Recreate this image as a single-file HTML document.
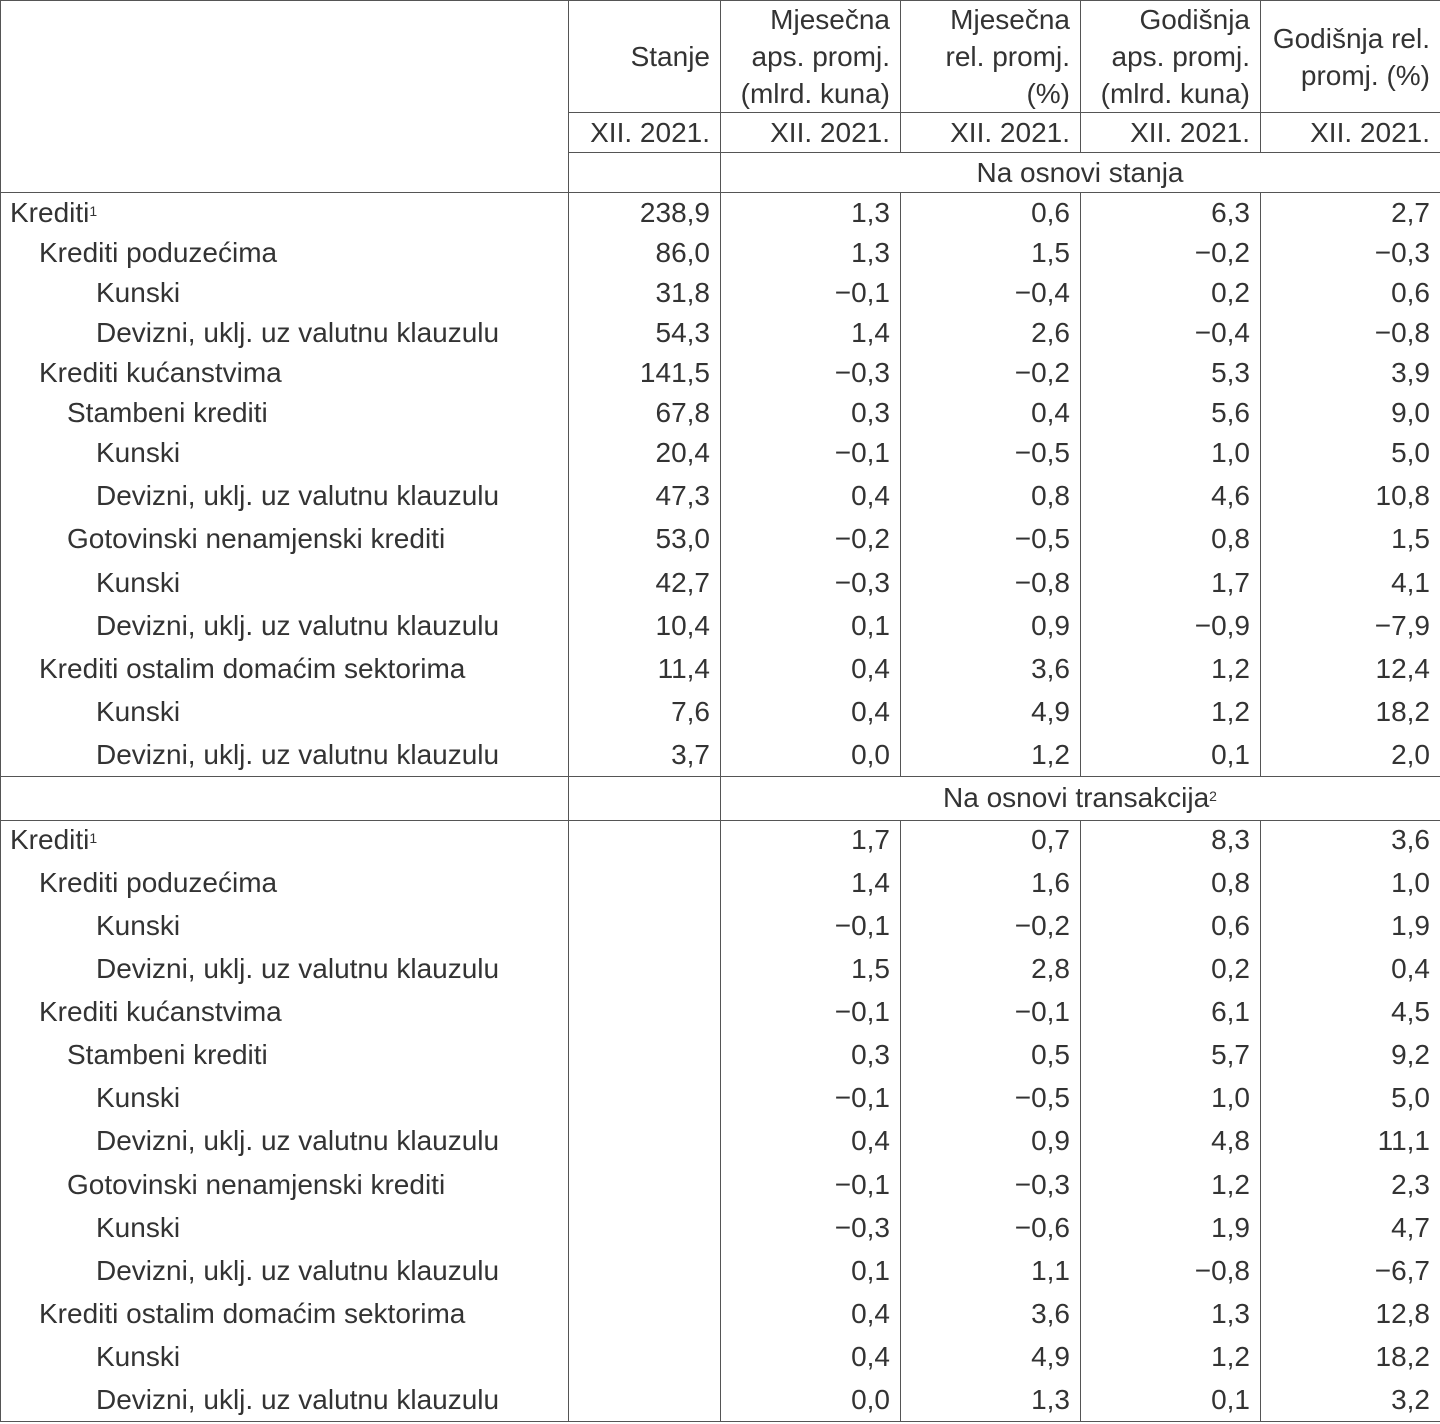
<!DOCTYPE html>
<html><head><meta charset="utf-8"><style>
html,body{margin:0;padding:0;background:#fff;}
#c{position:relative;width:1440px;height:1424px;overflow:hidden;font-family:"Liberation Sans",Arial,sans-serif;font-size:28px;color:#333;}
.h{position:absolute;height:1px;background:#555;}
.v{position:absolute;width:1px;background:#555;}
.t{position:absolute;white-space:nowrap;line-height:32px;}
.r{text-align:right;}
sup{font-size:14px;vertical-align:top;position:relative;top:-2px;}
</style></head><body><div id="c"></div>
<script>
var c=document.getElementById('c'),h='';
function H(y,x1,x2){h+='<div class="h" style="top:'+y+'px;left:'+x1+'px;width:'+(x2-x1)+'px"></div>';}
function V(x,y1,y2){h+='<div class="v" style="left:'+x+'px;top:'+y1+'px;height:'+(y2-y1)+'px"></div>';}
function T(txt,x,cy){h+='<div class="t" style="left:'+x+'px;top:'+(cy-16)+'px">'+txt+'</div>';}
function R(txt,xr,cy){h+='<div class="t r" style="right:'+(1440-xr)+'px;top:'+(cy-16)+'px">'+txt+'</div>';}
function C(txt,x1,x2,cy){h+='<div class="t" style="left:'+x1+'px;width:'+(x2-x1)+'px;text-align:center;top:'+(cy-16)+'px">'+txt+'</div>';}
H(0,0,1440);H(112,568,1440);H(152,568,1440);H(192,0,1440);H(776,0,1440);H(820,0,1440);H(1421,0,1440);
V(0,0,1422);V(568,0,1422);
[720,900,1080,1260].forEach(function(x){V(x,0,152);V(x,192,776);V(x,820,1422);});
V(720,152,192);V(720,776,820);
var cols=[710,890,1070,1250,1430];
var hd=[["Stanje"],["Mjesečna","aps. promj.","(mlrd. kuna)"],["Mjesečna","rel. promj.","(%)"],["Godišnja","aps. promj.","(mlrd. kuna)"],["Godišnja rel.","promj. (%)"]];
hd.forEach(function(a,i){var n=a.length;var start=n==1?57:(n==2?39:20);a.forEach(function(s,j){R(s,cols[i],start+j*37);});R("XII. 2021.",cols[i],133);});
C("Na osnovi stanja",720,1440,173);
C("Na osnovi transakcija<sup>2</sup>",720,1440,798);
var lab=[["Krediti<sup>1</sup>",10],["Krediti poduzećima",39],["Kunski",96],["Devizni, uklj. uz valutnu klauzulu",96],["Krediti kućanstvima",39],["Stambeni krediti",67],["Kunski",96],["Devizni, uklj. uz valutnu klauzulu",96],["Gotovinski nenamjenski krediti",67],["Kunski",96],["Devizni, uklj. uz valutnu klauzulu",96],["Krediti ostalim domaćim sektorima",39],["Kunski",96],["Devizni, uklj. uz valutnu klauzulu",96]];
var y1=[213,253,293,333,373,413,453,496,539,583,626,669,712,755];
var y2=[840,883,926,969,1012,1055,1098,1141,1185,1228,1271,1314,1357,1400];
var d1=[["238,9","1,3","0,6","6,3","2,7"],["86,0","1,3","1,5","−0,2","−0,3"],["31,8","−0,1","−0,4","0,2","0,6"],["54,3","1,4","2,6","−0,4","−0,8"],["141,5","−0,3","−0,2","5,3","3,9"],["67,8","0,3","0,4","5,6","9,0"],["20,4","−0,1","−0,5","1,0","5,0"],["47,3","0,4","0,8","4,6","10,8"],["53,0","−0,2","−0,5","0,8","1,5"],["42,7","−0,3","−0,8","1,7","4,1"],["10,4","0,1","0,9","−0,9","−7,9"],["11,4","0,4","3,6","1,2","12,4"],["7,6","0,4","4,9","1,2","18,2"],["3,7","0,0","1,2","0,1","2,0"]];
var d2=[["","1,7","0,7","8,3","3,6"],["","1,4","1,6","0,8","1,0"],["","−0,1","−0,2","0,6","1,9"],["","1,5","2,8","0,2","0,4"],["","−0,1","−0,1","6,1","4,5"],["","0,3","0,5","5,7","9,2"],["","−0,1","−0,5","1,0","5,0"],["","0,4","0,9","4,8","11,1"],["","−0,1","−0,3","1,2","2,3"],["","−0,3","−0,6","1,9","4,7"],["","0,1","1,1","−0,8","−6,7"],["","0,4","3,6","1,3","12,8"],["","0,4","4,9","1,2","18,2"],["","0,0","1,3","0,1","3,2"]];
lab.forEach(function(l,i){T(l[0],l[1],y1[i]);T(l[0],l[1],y2[i]);
d1[i].forEach(function(v,j){if(v)R(v,cols[j],y1[i]);});
d2[i].forEach(function(v,j){if(v)R(v,cols[j],y2[i]);});});
c.innerHTML=h;
</script></body></html>
